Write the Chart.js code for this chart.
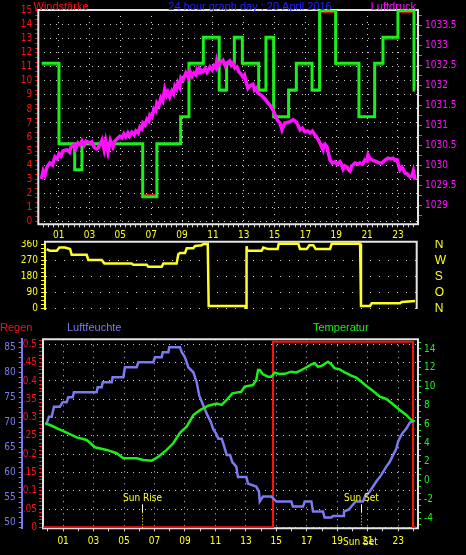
<!DOCTYPE html>
<html>
<head>
<meta charset="utf-8">
<script src="https://cdn.jsdelivr.net/npm/chart.js@4.4.0/dist/chart.umd.min.js"></script>
<style>
  html, body { margin: 0; padding: 0; background: #000; }
  #wrap { position: relative; width: 466px; height: 555px; background: #000; overflow: hidden; }
  #wrap canvas { position: absolute; left: 0; display: block; }
</style>
</head>
<body>
<div id="wrap">
  <canvas id="windChart" width="466" height="240" style="top:0"></canvas>
  <canvas id="dirChart" width="466" height="80" style="top:240px"></canvas>
  <canvas id="climateChart" width="466" height="235" style="top:320px"></canvas>
</div>
<script>
// ---- Daten: 20 April 2016 ----
const hourMin = -0.32, hourMax = 24.3;
const hourLabels = ["01", "03", "05", "07", "09", "11", "13", "15", "17", "19", "21", "23"];

// Windstärke (Böe grün, Mittel rot), Stufen
const windTimes = [-0.10, 1.02, 2.04, 2.51, 6.45, 7.37, 8.91, 9.45, 10.38, 11.41, 11.89, 12.39, 12.91, 13.97, 14.44, 14.94, 15.91, 16.41, 17.43, 17.92, 18.96, 20.47, 21.49, 22.03, 23.00, 24.04, 24.10];
const windGust = [11.25, 5.52, 3.67, 5.52, 1.75, 5.52, 7.44, 11.25, 13.1, 9.35, 11.25, 13.1, 11.25, 9.35, 13.1, 7.44, 9.35, 11.25, 9.35, 15.0, 11.25, 7.44, 11.25, 13.1, 15.0, 9.35, 9.35];
const windMean = [11.1, 5.45, 3.6, 5.45, 1.9, 5.45, 7.4, 11.1, 12.95, 9.25, 11.1, 12.95, 11.1, 9.25, 12.95, 7.4, 9.25, 11.1, 9.25, 14.85, 11.1, 7.4, 11.1, 12.95, 14.85, 9.25, 9.25];

// Luftdruck (hPa)
const pressTimes = [-0.12, 0.0, 0.11, 0.25, 0.43, 0.6, 0.76, 0.9, 1.02, 1.15, 1.28, 1.54, 1.7, 1.8, 1.99, 2.1, 2.25, 2.4, 2.51, 2.65, 2.77, 3.03, 3.15, 3.29, 3.45, 3.55, 3.7, 3.81, 3.95, 4.05, 4.2, 4.35, 4.52, 4.65, 4.78, 4.97, 5.1, 5.23, 5.35, 5.49, 5.6, 5.75, 5.9, 6.01, 6.15, 6.27, 6.4, 6.47, 6.6, 6.73, 6.85, 6.92, 7.05, 7.18, 7.3, 7.37, 7.5, 7.63, 7.75, 7.88, 8.0, 8.08, 8.2, 8.34, 8.45, 8.54, 8.65, 8.73, 8.85, 8.93, 9.06, 9.25, 9.4, 9.51, 9.65, 9.77, 9.9, 9.97, 10.1, 10.16, 10.36, 10.5, 10.62, 10.81, 10.95, 11.07, 11.2, 11.26, 11.35, 11.46, 11.65, 11.8, 11.91, 12.1, 12.2, 12.3, 12.43, 12.56, 12.7, 12.76, 12.95, 13.05, 13.14, 13.27, 13.4, 13.6, 13.7, 13.79, 13.92, 14.12, 14.25, 14.44, 14.57, 14.7, 14.83, 14.96, 15.09, 15.22, 15.35, 15.48, 15.6, 15.67, 16.0, 16.19, 16.32, 16.45, 16.65, 16.8, 16.97, 17.15, 17.3, 17.45, 17.62, 17.81, 17.94, 18.14, 18.2, 18.27, 18.4, 18.59, 18.75, 18.92, 19.05, 19.24, 19.35, 19.44, 19.55, 19.7, 19.8, 19.89, 20.02, 20.22, 20.4, 20.54, 20.7, 20.86, 21.0, 21.06, 21.2, 21.32, 21.5, 21.64, 21.8, 21.96, 22.16, 22.35, 22.5, 22.68, 22.8, 22.94, 23.05, 23.13, 23.25, 23.33, 23.46, 23.6, 23.78, 23.91, 24.0, 24.11];
const pressValues = [1029.65, 1029.85, 1029.75, 1029.95, 1030.05, 1030.0, 1030.2, 1030.15, 1030.28, 1030.22, 1030.35, 1030.38, 1030.32, 1030.45, 1030.5, 1030.4, 1030.55, 1030.5, 1030.6, 1030.5, 1030.6, 1030.55, 1030.58, 1030.45, 1030.4, 1030.42, 1030.52, 1030.62, 1030.38, 1030.6, 1030.32, 1030.62, 1030.45, 1030.6, 1030.65, 1030.72, 1030.68, 1030.78, 1030.7, 1030.8, 1030.72, 1030.82, 1030.75, 1030.85, 1030.8, 1030.95, 1030.9, 1031.05, 1031.0, 1031.15, 1031.1, 1031.25, 1031.2, 1031.4, 1031.35, 1031.55, 1031.48, 1031.68, 1031.6, 1031.9, 1031.75, 1031.82, 1031.7, 1031.85, 1031.78, 1031.97, 1031.9, 1032.05, 1031.95, 1032.18, 1032.12, 1032.3, 1032.2, 1032.35, 1032.22, 1032.3, 1032.25, 1032.38, 1032.3, 1032.4, 1032.33, 1032.42, 1032.32, 1032.45, 1032.38, 1032.48, 1032.42, 1032.6, 1032.48, 1032.55, 1032.62, 1032.48, 1032.55, 1032.6, 1032.5, 1032.55, 1032.42, 1032.45, 1032.32, 1032.3, 1032.2, 1032.25, 1032.1, 1031.92, 1031.98, 1032.02, 1031.88, 1031.92, 1031.8, 1031.75, 1031.7, 1031.62, 1031.55, 1031.5, 1031.42, 1031.32, 1031.2, 1031.1, 1031.05, 1030.88, 1031.0, 1031.05, 1031.08, 1031.13, 1031.1, 1031.05, 1030.88, 1030.92, 1030.83, 1030.85, 1030.8, 1030.85, 1030.75, 1030.65, 1030.55, 1030.38, 1030.5, 1030.52, 1030.45, 1030.13, 1030.05, 1030.08, 1030.02, 1030.08, 1030.0, 1029.9, 1029.98, 1029.95, 1029.88, 1029.85, 1029.98, 1030.05, 1030.02, 1030.05, 1030.02, 1030.13, 1030.1, 1030.25, 1030.15, 1030.13, 1030.1, 1030.08, 1030.05, 1030.05, 1030.12, 1030.17, 1030.15, 1030.17, 1030.12, 1030.13, 1029.98, 1029.88, 1029.95, 1029.9, 1029.8, 1029.78, 1029.7, 1029.72, 1029.85, 1029.63];

// Windrichtung (Grad)
const dirTimes = [-0.21, 0.01, 0.46, 0.63, 1.0, 1.34, 1.45, 2.44, 2.55, 3.44, 3.61, 5.42, 5.53, 6.42, 6.52, 7.41, 7.52, 8.40, 8.51, 8.62, 8.95, 9.07, 9.50, 9.62, 10.06, 10.17, 10.46, 10.52, 12.93, 13.00, 13.03, 13.08, 14.03, 14.14, 14.47, 15.09, 15.16, 16.46, 16.57, 17.01, 17.19, 17.45, 17.61, 18.56, 18.67, 20.55, 20.61, 21.21, 21.32, 23.20, 23.31, 24.19];
const dirValues = [334, 324, 324, 343, 343, 334, 302, 302, 273, 273, 253, 253, 245, 245, 234, 234, 253, 253, 305, 312, 312, 339, 339, 352, 356, 363, 363, 13, 13, 0, 350, 324, 324, 343, 334, 334, 364, 364, 334, 334, 356, 356, 334, 334, 364, 364, 13, 13, 28, 28, 35, 41];
const dirTickValues = [0, 90, 180, 270, 360];
const dirLetters = ["N", "O", "S", "W", "N"];

// Luftfeuchte (%)
const humTimes = [-0.08, 0.07, 0.25, 0.4, 0.79, 0.97, 1.23, 1.34, 1.63, 1.71, 3.2, 3.27, 3.53, 3.6, 4.19, 4.25, 4.95, 5.06, 5.83, 5.94, 6.92, 7.03, 7.47, 7.54, 7.91, 7.97, 8.67, 8.79, 9.0, 9.22, 9.55, 9.77, 9.94, 10.2, 10.47, 10.69, 10.86, 11.04, 11.19, 11.41, 11.52, 11.74, 11.96, 12.11, 12.37, 12.48, 13.03, 13.14, 13.68, 13.86, 13.91, 14.12, 14.45, 14.67, 15.0, 15.98, 16.09, 16.75, 16.86, 17.3, 17.41, 18.06, 18.17, 18.61, 18.72, 19.38, 19.44, 19.77, 19.92, 20.21, 20.69, 20.82, 21.13, 21.35, 21.56, 21.79, 22.0, 22.22, 22.44, 22.66, 22.88, 22.99, 23.2, 23.36, 23.53, 23.76, 23.97];
const humValues = [69.7, 71.1, 71.1, 73.1, 73.1, 74, 74, 75, 75, 76, 76, 77, 77, 78, 78, 79, 79, 81, 81, 82, 82, 83, 83, 84, 84, 85, 85, 84, 83, 81, 80, 78, 75.3, 73.4, 71.4, 70.1, 68.6, 67.7, 66.7, 66.7, 65.7, 63.4, 63.4, 62, 61.1, 59, 59, 57.7, 57.1, 56.1, 54.1, 55.1, 55.1, 55.1, 54.1, 54.1, 53.1, 53.1, 54.1, 54.1, 52.1, 52.1, 50.9, 50.9, 51.2, 51.2, 52.1, 52.5, 53.1, 54.1, 54.1, 55.1, 56.1, 57.1, 58.1, 59, 60, 61.1, 62, 63.4, 64.7, 66.1, 67.4, 68.1, 68.7, 69.9, 70.2];

// Temperatur (°C)
const tempTimes = [-0.19, 0.14, 0.68, 1.23, 1.89, 2.55, 3.09, 3.86, 4.52, 4.95, 5.83, 6.26, 6.82, 7.25, 7.8, 8.23, 8.67, 9.11, 9.55, 9.99, 10.53, 11.08, 11.41, 11.74, 12.11, 12.7, 12.92, 13.47, 13.68, 13.8, 13.91, 14.12, 14.45, 14.67, 14.89, 15.22, 15.55, 15.98, 16.31, 16.53, 16.86, 17.3, 17.52, 17.73, 17.95, 18.39, 18.61, 18.83, 19.16, 19.49, 19.92, 20.25, 20.58, 20.91, 21.35, 21.79, 22.22, 22.66, 23.1, 23.53, 23.86, 24.08];
const tempValues = [6.1, 5.92, 5.5, 5.1, 4.6, 4.33, 3.55, 3.27, 2.92, 2.39, 2.39, 2.2, 2.13, 2.55, 3.27, 3.98, 5.1, 5.74, 6.98, 7.5, 7.97, 8.2, 8.05, 8.58, 9.29, 9.46, 10.0, 10.17, 10.7, 11.77, 11.77, 11.31, 11.06, 11.06, 11.48, 11.34, 11.36, 11.59, 11.5, 11.66, 11.95, 12.37, 12.48, 12.12, 12.19, 12.65, 12.37, 11.95, 11.84, 11.52, 11.16, 10.95, 10.52, 10.07, 9.54, 8.93, 8.69, 8.12, 7.52, 6.99, 6.45, 6.27];

// Regen
const rainTimes = [-0.3, 14.78, 14.78, 23.97, 23.97, 24.15];
const rainValues = [0, 0, 0.507, 0.507, 0, 0];

// Sonnenauf-/untergang
const sunLabels = ["Sun Rise", "Sun Set"];
const sunHours = [6.2, 20.58];
const sunOnAxis = [false, true];

// ---- Farben / Schriften ----
const RED = "#ff1010", GREEN = "#19f019", MAGENTA = "#ff10ff", YELLOW = "#ffff20";
const LAVENDER = "#7b7bef", TITLE_BLUE = "#2222ff";
const FRAME = "#e4e4e4", GRID = "#d0d0d0", TICK_WHITE = "#d8d8d8";
const NARROW = "'Liberation Sans Narrow', 'DejaVu Sans Condensed', 'Liberation Sans', Arial, sans-serif";
const TICK_FONT = { family: NARROW, size: 10 };
const TITLE_FONT = "11px 'Liberation Sans', Arial, sans-serif";

function series(times, values) {
  const n = Math.min(times.length, values.length);
  const out = [];
  for (let i = 0; i < n; i++) out.push({ x: times[i], y: values[i] });
  return out;
}

function tickList(min, max, step) {
  const out = [];
  for (let k = Math.ceil(min / step - 1e-9); k * step <= max + 1e-9; k++) {
    out.push({ value: Math.round(k * step * 1000) / 1000 });
  }
  return out;
}

function onStep(v, major) {
  const r = v / major;
  return Math.abs(r - Math.round(r)) < 1e-6;
}

function hourLabel(v) {
  return hourLabels.find(l => Math.abs(Number(l) - v) < 1e-6) || "";
}

function hourAxis(o) {
  return {
    type: "linear", position: "bottom", min: hourMin, max: hourMax,
    afterBuildTicks: s => { s.ticks = tickList(0, 24, o.step); },
    afterFit: s => { s.height = o.height; s.paddingLeft = 0; s.paddingRight = 0; },
    ticks: { color: YELLOW, font: TICK_FONT, padding: o.padding, autoSkip: false, maxRotation: 0, minRotation: 0, callback: v => hourLabel(v) },
    grid: { color: c => (c.tick && hourLabel(c.tick.value)) ? GRID : "rgba(0,0,0,0)", tickColor: TICK_WHITE, tickLength: 3, tickBorderDash: [], lineWidth: 1 },
    border: { display: false, dash: o.dash }
  };
}

function yAxis(o) {
  return {
    type: "linear", position: o.position, min: o.min, max: o.max, weight: o.weight || 0,
    afterBuildTicks: s => { s.ticks = tickList(o.min, o.max, o.step); },
    afterFit: s => { s.width = o.width; s.paddingTop = 0; s.paddingBottom = 0; },
    ticks: { color: o.color, font: TICK_FONT, padding: o.padding, autoSkip: false, callback: v => onStep(v, o.major) ? String(v) : "" },
    grid: {
      drawOnChartArea: o.grid !== false,
      color: c => (c.tick && onStep(c.tick.value, o.major) && (!o.gridIf || o.gridIf(c.tick.value))) ? GRID : "rgba(0,0,0,0)",
      tickColor: o.color, tickLength: o.tickLength, tickBorderDash: [], lineWidth: 1
    },
    border: { display: !!o.border, color: o.color, width: 2, dash: o.dash || [] }
  };
}

// weißer Rahmen um die Zeichenfläche
const framePlugin = {
  id: "frame",
  beforeDatasetsDraw(chart, args, opts) {
    const { ctx, chartArea: a } = chart;
    const sides = opts.sides || "trbl";
    ctx.save();
    ctx.strokeStyle = FRAME;
    ctx.lineWidth = 2;
    ctx.beginPath();
    if (sides.includes("t")) { ctx.moveTo(a.left - 1, a.top); ctx.lineTo(a.right + 1, a.top); }
    if (sides.includes("r")) { ctx.moveTo(a.right, a.top); ctx.lineTo(a.right, a.bottom); }
    if (sides.includes("b")) { ctx.moveTo(a.left - 1, a.bottom); ctx.lineTo(a.right + 1, a.bottom); }
    if (sides.includes("l")) { ctx.moveTo(a.left, a.top); ctx.lineTo(a.left, a.bottom); }
    ctx.stroke();
    ctx.restore();
  }
};

function textPlugin(items) {
  return {
    id: "texts",
    afterDraw(chart) {
      const ctx = chart.ctx;
      items.forEach(it => {
        ctx.save();
        ctx.font = it.font || TITLE_FONT;
        ctx.fillStyle = it.color;
        ctx.textAlign = it.align || "left";
        ctx.textBaseline = "alphabetic";
        ctx.fillText(it.text, it.x, it.y);
        ctx.restore();
      });
    }
  };
}

const sunPlugin = {
  id: "sun",
  afterDatasetsDraw(chart) {
    const { ctx, chartArea: a, scales: { x } } = chart;
    sunHours.forEach((h, i) => {
      const px = Math.round(x.getPixelForValue(h)) + 0.5;
      ctx.save();
      ctx.lineWidth = 1;
      ctx.strokeStyle = "#ffffff";
      ctx.beginPath(); ctx.moveTo(px, a.bottom - 24); ctx.lineTo(px, a.bottom - 16); ctx.stroke();
      ctx.strokeStyle = YELLOW;
      ctx.setLineDash([1, 2]);
      ctx.beginPath(); ctx.moveTo(px, a.bottom - 16); ctx.lineTo(px, a.bottom); ctx.stroke();
      ctx.setLineDash([]);
      ctx.fillStyle = YELLOW;
      ctx.font = "10px " + NARROW;
      ctx.textAlign = "center";
      ctx.fillText(sunLabels[i], px, a.bottom - 27);
      if (sunOnAxis[i]) ctx.fillText(sunLabels[i], px - 1, a.bottom + 16.5);
      ctx.restore();
    });
  }
};

const base = {
  responsive: false,
  animation: false,
  events: [],
  elements: { point: { radius: 0 }, line: { tension: 0 } }
};

// ---- 1: Windstärke + Luftdruck ----
new Chart(document.getElementById("windChart"), {
  type: "line",
  data: {
    datasets: [
      { data: series(pressTimes, pressValues), yAxisID: "press", borderColor: MAGENTA, borderWidth: 3.5, order: 0 },
      { data: series(windTimes, windGust), yAxisID: "wind", borderColor: GREEN, borderWidth: 3, stepped: "before", order: 1 },
      { data: series(windTimes, windMean), yAxisID: "wind", borderColor: RED, borderWidth: 1, stepped: "before", order: 2 }
    ]
  },
  options: Object.assign({}, base, {
    layout: { padding: { top: 10, left: 0, right: 0, bottom: 0 }, autoPadding: false },
    plugins: { legend: { display: false }, tooltip: { enabled: false }, frame: { sides: "trbl" } },
    scales: {
      x: hourAxis({ step: 1 / 3, height: 15.7, padding: 2, dash: [1, 5] }),
      wind: yAxis({ position: "left", min: -0.21, max: 15.04, step: 1 / 3, major: 1, color: RED, width: 38.3, tickLength: 3, padding: 3, dash: [1, 5] }),
      press: yAxis({ position: "right", min: 1028.518, max: 1033.875, step: 0.25, major: 0.5, color: MAGENTA, width: 48, tickLength: 4, padding: 3, grid: false })
    }
  }),
  plugins: [framePlugin, textPlugin([
    { text: "Windstärke", x: 33.5, y: 9.5, color: RED },
    { text: "24 hour graph day : 20 April 2016", x: 250, y: 9.5, color: TITLE_BLUE, align: "center" },
    { text: "Luftdruck", x: 416, y: 9.5, color: MAGENTA, align: "right" }
  ])]
});

// ---- 2: Windrichtung ----
new Chart(document.getElementById("dirChart"), {
  type: "line",
  data: {
    datasets: [
      { data: series(dirTimes, dirValues), yAxisID: "dir", borderColor: YELLOW, borderWidth: 2.5 }
    ]
  },
  options: Object.assign({}, base, {
    layout: { padding: { top: 1.7, left: 0, right: 0, bottom: 11 }, autoPadding: false },
    plugins: { legend: { display: false }, tooltip: { enabled: false }, frame: { sides: "tr" } },
    scales: {
      x: { type: "linear", min: hourMin, max: hourMax, display: false },
      dir: yAxis({ position: "left", min: -4.5, max: 375.8, step: 22.5, major: 90, color: YELLOW, width: 45, tickLength: 4, padding: 3, dash: [1, 8], border: true, gridIf: v => v < 360 }),
      letters: {
        type: "linear", position: "right", min: -4.5, max: 375.8,
        afterBuildTicks: s => { s.ticks = dirTickValues.map(v => ({ value: v })); },
        afterFit: s => { s.width = 49.3; s.paddingTop = 0; s.paddingBottom = 0; },
        ticks: { color: YELLOW, font: { family: "'Liberation Sans', Arial, sans-serif", size: 12 }, padding: 10, autoSkip: false, callback: v => dirLetters[dirTickValues.indexOf(v)] || "" },
        grid: { display: false },
        border: { display: false }
      }
    }
  }),
  plugins: [framePlugin]
});

// ---- 3: Regen, Luftfeuchte, Temperatur ----
new Chart(document.getElementById("climateChart"), {
  type: "line",
  data: {
    datasets: [
      { data: series(humTimes, humValues), yAxisID: "hum", borderColor: LAVENDER, borderWidth: 2.5, order: 1 },
      { data: series(tempTimes, tempValues), yAxisID: "temp", borderColor: GREEN, borderWidth: 2.5, order: 0 },
      { data: series(rainTimes, rainValues), yAxisID: "rain", borderColor: RED, borderWidth: 2, order: 2 }
    ]
  },
  options: Object.assign({}, base, {
    layout: { padding: { top: 19.3, left: 0, right: 0, bottom: 0 }, autoPadding: false },
    plugins: { legend: { display: false }, tooltip: { enabled: false }, frame: { sides: "trbl" } },
    scales: {
      x: hourAxis({ step: 1, height: 26.7, padding: 4, dash: [1, 5] }),
      hum: yAxis({ position: "left", weight: 1, min: 48.74, max: 86.6, step: 1, major: 5, color: LAVENDER, width: 21.7, tickLength: 3, padding: 3, grid: false, border: true }),
      rain: yAxis({ position: "left", weight: 0, min: -0.0027, max: 0.5137, step: 0.01, major: 0.05, color: RED, width: 21.3, tickLength: 4, padding: 2, dash: [1, 5] }),
      temp: yAxis({ position: "right", min: -5.06, max: 15.03, step: 2 / 3, major: 2, color: GREEN, width: 48, tickLength: 3, padding: 3, grid: false })
    }
  }),
  plugins: [framePlugin, sunPlugin, textPlugin([
    { text: "Regen", x: 0, y: 11, color: RED },
    { text: "Luftfeuchte", x: 67, y: 11, color: LAVENDER },
    { text: "Temperatur", x: 313, y: 11, color: GREEN }
  ])]
});
</script>
</body>
</html>
